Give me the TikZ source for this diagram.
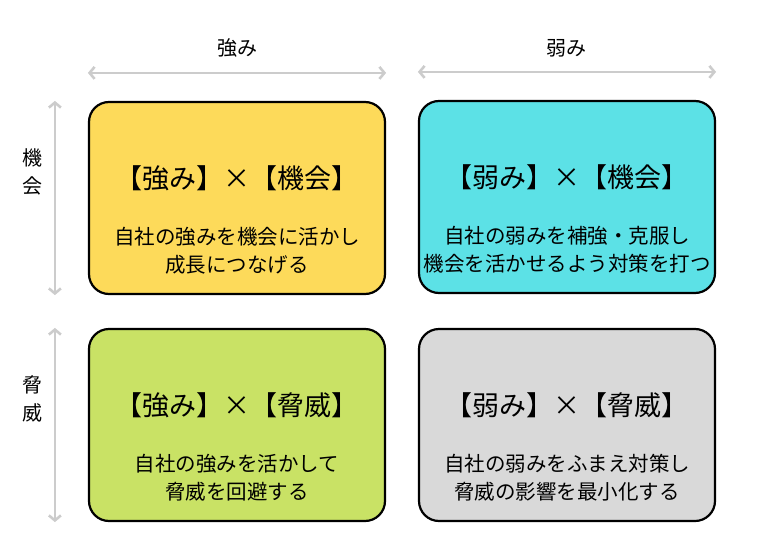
\documentclass[tikz,border=0pt]{standalone}
\usepackage{fontspec}
\setmainfont{Noto Sans CJK JP}
\usepackage{tikz}
\usetikzlibrary{arrows.meta,positioning}
\usepackage{xcolor}
\definecolor{swyellow}{RGB}{253,218,90}
\definecolor{swcyan}{RGB}{92,225,230}
\definecolor{swgreen}{RGB}{201,226,101}
\definecolor{swgrey}{RGB}{217,217,217}
\definecolor{axisgrey}{RGB}{204,204,204}
\tikzstyle{quad} = [draw=black,line width=2.2pt,rounded corners=20pt,minimum width=296pt,minimum height=192pt]
\tikzstyle{qtitle} = [font=\fontsize{27}{30}\selectfont]
\tikzstyle{qbody} = [font=\fontsize{20.5}{28}\selectfont,align=center]
\tikzstyle{axis} = [line width=2.6pt,color=axisgrey,{Straight Barb[length=5pt,width=12pt]}-{Straight Barb[length=5pt,width=12pt]}]
\tikzstyle{axislabel} = [font=\fontsize{20}{28}\selectfont,align=center]

\begin{document}
\begin{tikzpicture}[x=1pt,y=-1pt]
\useasboundingbox (0,0) rectangle (760,543);
% Four quadrants
\node[quad,fill=swyellow] (so) at (237,198) {};
\node[quad,fill=swcyan] (wo) at (567,197) {};
\node[quad,fill=swgreen] (st) at (237,425) {};
\node[quad,fill=swgrey] (wt) at (567,425) {};

% Titles and descriptions
\node[qtitle] (sot) at ([yshift=20pt]so.center) {【強み】×【機会】};
\node[qbody] (sob) at ([yshift=-53pt]so.center) {自社の強みを機会に活かし\\成長につなげる};
\node[qtitle] (wot) at ([yshift=20pt]wo.center) {【弱み】×【機会】};
\node[qbody] (wob) at ([yshift=-53pt]wo.center) {自社の弱みを補強・克服し\\機会を活かせるよう対策を打つ};
\node[qtitle] (stt) at ([yshift=20pt]st.center) {【強み】×【脅威】};
\node[qbody] (stb) at ([yshift=-53pt]st.center) {自社の強みを活かして\\脅威を回避する};
\node[qtitle] (wtt) at ([yshift=20pt]wt.center) {【弱み】×【脅威】};
\node[qbody] (wtb) at ([yshift=-53pt]wt.center) {自社の弱みをふまえ対策し\\脅威の影響を最小化する};

% Axes
\draw[axis] ([yshift=28pt]so.north west) -- ([yshift=28pt]so.north east);
\draw[axis] ([yshift=28pt]wo.north west) -- ([yshift=28pt]wo.north east);
\draw[axis] ([xshift=-33pt]so.north west) -- ([xshift=-33pt]so.south west);
\draw[axis] ([xshift=-33pt]st.north west) -- ([xshift=-33pt]st.south west);
\node[axislabel] (sl) at (237,48) {強み};
\node[axislabel] (wl) at (566,48) {弱み};
\node[axislabel] (ol) at (33,172) {機\\会};
\node[axislabel] (tl) at (33,399) {脅\\威};
\end{tikzpicture}
\end{document}
